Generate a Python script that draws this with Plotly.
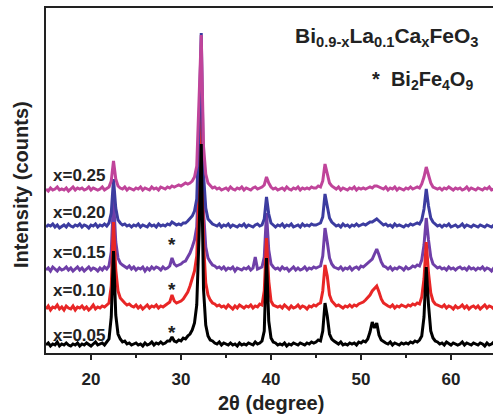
import numpy as np
import plotly.graph_objects as go

# 2-theta grid (degrees), 0.25 step
two_theta = np.linspace(15, 65, 201)

labels = ["x=0.05", "x=0.10", "x=0.15", "x=0.20", "x=0.25"]
colors = ["#000000", "#e82626", "#6f3fa8", "#3c3ca0", "#c0449a"]
offsets = [6, 41, 80, 124, 161]

i_005 = [2,4,1,3,2,5,1,3, 2,4,2,1,3,2,4,1, 3,2,4,2,1,3,5,2, 3,4,2,5,8,30,96,32,
         13,8,5,6,3,4,2,3, 4,2,3,1,4,2,3,5, 2,4,3,5,3,4,6,6, 10,6,5,7,6,9,8,11,
         13,17,24,42,110,203,58,22, 11,7,6,4,3,5,2,4, 3,2,4,2,3,1,4,2, 3,2,4,3,2,5,3,4,
         6,16,89,26,9,5,4,2, 3,2,4,1,3,2,4,3, 2,4,3,2,4,3,5,4, 5,7,6,16,44,31,13,8,
         6,4,3,5,2,3,2,4, 3,4,2,5,4,6,5,8, 15,25,19,24,12,7,5,4, 3,5,2,4,3,2,4,3,
         4,3,5,4,6,5,7,11, 30,80,42,16,9,6,5,3, 4,2,5,3,2,4,3,2, 3,5,2,4,3,2,4,3,
         2,4,3,1,4,2,3,5, 3]
i_010 = [3,6,2,5,4,7,3,5, 2,6,4,3,6,2,5,4, 6,3,5,2,4,7,3,5, 4,6,5,7,9,26,90,42,
         21,14,11,9,7,8,6,5, 7,4,6,3,5,7,4,6, 5,7,4,6,5,7,9,10, 17,11,9,10,11,13,16,20,
         26,33,41,56,120,210,70,29, 17,12,9,8,6,7,5,6, 4,7,5,3,6,4,7,5, 4,6,5,7,4,6,5,8,
         7,21,74,31,11,7,6,5, 6,4,7,5,3,6,4,5, 7,4,6,5,3,6,5,7, 6,8,9,21,47,36,17,11,
         8,6,7,5,4,6,5,7, 5,7,6,8,9,10,12,14, 17,21,24,26,20,13,9,7, 6,5,7,4,6,5,7,6,
         5,7,6,8,7,9,8,15, 33,70,39,19,11,8,7,6, 5,7,4,6,5,3,6,4, 5,7,4,6,3,5,6,4,
         6,3,5,7,4,6,5,3, 5]
i_015 = [3,5,2,6,4,2,5,3, 4,6,3,5,2,4,6,3, 5,2,4,6,3,5,4,2, 5,3,6,4,7,21,75,31,
         15,10,8,6,5,7,4,6, 3,5,4,6,2,5,3,6, 4,6,5,3,6,4,5,7, 15,9,7,8,9,11,12,16,
         20,26,33,46,110,205,62,26, 15,11,8,7,5,6,4,6, 3,5,4,6,2,5,4,3, 5,4,6,3,5,16,4,5,
         6,16,60,23,9,6,4,5, 3,6,4,5,2,4,6,3, 5,3,4,6,3,5,4,6, 5,6,7,17,45,31,15,9,
         6,5,4,6,3,5,4,6, 3,5,6,4,7,6,8,9, 11,14,19,24,18,11,7,6, 4,6,3,5,4,6,5,3,
         6,4,5,7,6,8,7,13, 28,55,33,16,9,7,5,6, 4,5,3,6,4,5,3,5, 6,4,5,3,6,4,5,3,
         5,4,6,3,5,4,2,5, 4]
i_020 = [2,4,3,5,2,4,1,3, 4,2,5,3,2,4,3,5, 2,4,3,1,4,3,5,2, 4,3,5,3,6,16,50,21,
         9,6,4,5,3,4,2,4, 3,5,2,4,3,2,5,3, 4,2,5,3,4,3,5,4, 7,5,4,5,4,6,6,8,
         10,13,18,30,100,196,55,21, 10,7,5,4,3,5,2,4, 3,5,2,4,3,2,4,3, 5,2,4,3,2,4,5,3,
         4,10,32,15,6,4,2,4, 3,5,2,4,3,5,2,3, 4,2,5,3,4,3,5,4, 4,5,6,12,35,23,11,7,
         5,3,4,2,5,3,4,2, 4,3,5,3,4,5,4,6, 7,7,9,10,8,6,4,5, 3,4,2,5,3,4,3,2,
         4,3,5,4,5,6,5,9, 20,40,23,11,7,5,3,4, 2,4,3,5,2,3,4,2, 3,5,2,4,3,2,4,3,
         2,4,3,2,4,3,2,4, 3]
i_025 = [3,1,4,2,3,5,2,3, 2,4,1,3,5,2,4,3, 4,2,3,5,2,4,3,2, 3,5,2,4,5,11,31,13,
         6,4,3,5,2,4,3,2, 4,3,5,2,4,3,2,5, 3,4,2,5,4,3,5,4, 6,5,6,7,6,8,9,8,
         9,11,15,26,90,157,46,18, 9,6,4,5,3,4,2,3, 4,2,5,3,2,4,3,5, 2,4,3,2,4,5,3,4,
         5,7,15,9,5,3,4,2, 3,4,2,5,3,2,4,3, 5,2,4,3,4,3,5,4, 4,6,5,11,28,19,9,6,
         4,3,5,2,4,3,2,4, 3,5,2,4,3,4,3,4, 5,4,6,6,5,4,3,5, 2,4,3,5,2,4,3,2,
         4,3,5,3,4,5,4,8, 15,25,17,9,5,4,3,4, 2,4,3,5,3,2,4,3, 4,2,3,5,2,4,3,2,
         4,3,2,4,3,5,2,3, 3]

series = [i_005, i_010, i_015, i_020, i_025]

# label positions (data units)
label_y = [18, 63, 101, 141, 178]
star_x = 29.0
star_y = [21, 64, 109]

tick_vals = [20, 30, 40, 50, 60]
tick_text = ["20", "30", "40", "50", "60"]

FONT = "Arial, Liberation Sans"
fig = go.Figure()
draw_order = [2, 1, 3, 4, 0]
for k in draw_order:
    y = np.array(series[k]) + offsets[k]
    fig.add_trace(go.Scatter(x=two_theta, y=y, mode="lines",
                             line=dict(color=colors[k], width=3),
                             name=labels[k], showlegend=False))

for k in range(5):
    fig.add_annotation(x=15.5, y=label_y[k], xref="x", yref="y", text="<b>%s</b>" % labels[k],
                       showarrow=False, xanchor="left", yanchor="middle",
                       font=dict(family=FONT, size=17, color="#222"))
for sy in star_y:
    fig.add_annotation(x=star_x, y=sy, xref="x", yref="y", text="<b>*</b>",
                       showarrow=False, xanchor="center", yanchor="middle",
                       font=dict(family=FONT, size=19, color="#222"))

fig.add_annotation(xref="paper", yref="paper", x=(480 - 46) / 447, y=(353 - 37) / 345,
                   text="<b>Bi<sub>0.9-x</sub>La<sub>0.1</sub>Ca<sub>x</sub>FeO<sub>3</sub></b>",
                   showarrow=False, xanchor="right", yanchor="middle",
                   font=dict(family=FONT, size=21, color="#222"))
fig.add_annotation(xref="paper", yref="paper", x=(475 - 46) / 447, y=(353 - 80) / 345,
                   text="<b>*  Bi<sub>2</sub>Fe<sub>4</sub>O<sub>9</sub></b>",
                   showarrow=False, xanchor="right", yanchor="middle",
                   font=dict(family=FONT, size=20, color="#222"))

fig.add_annotation(xref="paper", yref="paper", x=(21 - 46) / 447, y=(353 - 185) / 345,
                   text="<b>Intensity (counts)</b>", textangle=-90, showarrow=False,
                   xanchor="center", yanchor="middle",
                   font=dict(family=FONT, size=20, color="#222"))
fig.add_annotation(xref="paper", yref="paper", x=(271 - 46) / 447, y=(353 - 403) / 345,
                   text="<b>2θ (degree)</b>", showarrow=False,
                   xanchor="center", yanchor="middle",
                   font=dict(family=FONT, size=20, color="#222"))

fig.update_layout(
    width=493, height=415,
    margin=dict(l=46, r=0, t=8, b=62),
    paper_bgcolor="white", plot_bgcolor="white",
    xaxis=dict(range=[15, 15 + 447 / 9], showgrid=False, zeroline=False,
               showline=True, linecolor="#222", linewidth=2, mirror=True,
               ticks="outside", ticklen=5, tickwidth=2, tickcolor="#222",
               tickvals=tick_vals, ticktext=["<b>%s</b>" % t for t in tick_text],
               tickfont=dict(family=FONT, size=17, color="#222"),
               ticklabelstandoff=5,
               minor=dict(tickvals=[25, 35, 45, 55], ticks="outside", ticklen=3,
                          tickwidth=2, tickcolor="#222", showgrid=False)),
    yaxis=dict(range=[0, 345], showgrid=False, zeroline=False, showticklabels=False,
               showline=True, linecolor="#222", linewidth=2, mirror=False, ticks=""),
)

fig.write_html("out.html")
